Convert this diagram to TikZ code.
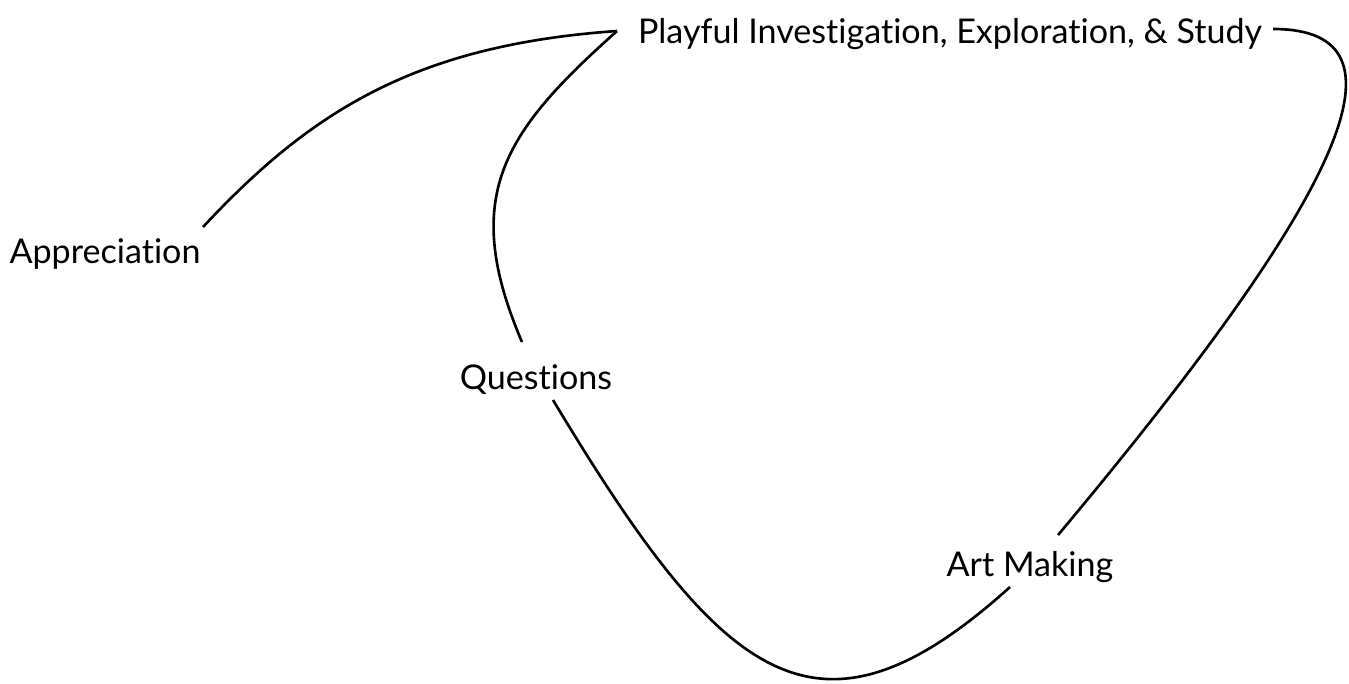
\documentclass[tikz,border=0pt]{standalone}
\usepackage{fontspec}
\setmainfont{Lato}[Ligatures=NoCommon]
\usepackage{tikz}
\usetikzlibrary{positioning}

\begin{document}
\begin{tikzpicture}[
  font=\fontsize{9.7pt}{11.6pt}\selectfont,
  term/.style={inner sep=0pt, anchor=base},
  link/.style={line width=0.75pt},
]
\useasboundingbox (0,0) rectangle (13.49,6.83);
% ---------- terms ----------
\node[term] (play) at (9.50,6.40) {Playful Investigation, Exploration, \& Study};
\node[term] (appr) at (1.05,4.20) {Appreciation};
\node[term] (ques) at (5.36,2.94) {Questions};
\node[term] (art)  at (10.30,1.07) {Art Making};
% ---------- anchor points of the links ----------
\coordinate (pw) at (6.17,6.52);
\coordinate (pe) at (12.73,6.54);
\coordinate (aa) at (2.03,4.56);
\coordinate (qn) at (5.22,3.41);
\coordinate (qs) at (5.53,2.83);
\coordinate (as) at (10.10,0.96);
\coordinate (an) at (10.58,1.48);
% ---------- links ----------
\draw[link] (aa) .. controls (3.12,5.73) and (4.17,6.38) .. (pw);
\draw[link] (pw) .. controls (5.05,5.52) and (4.59,4.88) .. (qn);
\draw[link] (qs) .. controls (7.23,0.00) and (8.17,-0.78) .. (as);
\draw[link] (an) .. controls (13.47,4.93) and (14.18,6.54) .. (pe);
\end{tikzpicture}
\end{document}
